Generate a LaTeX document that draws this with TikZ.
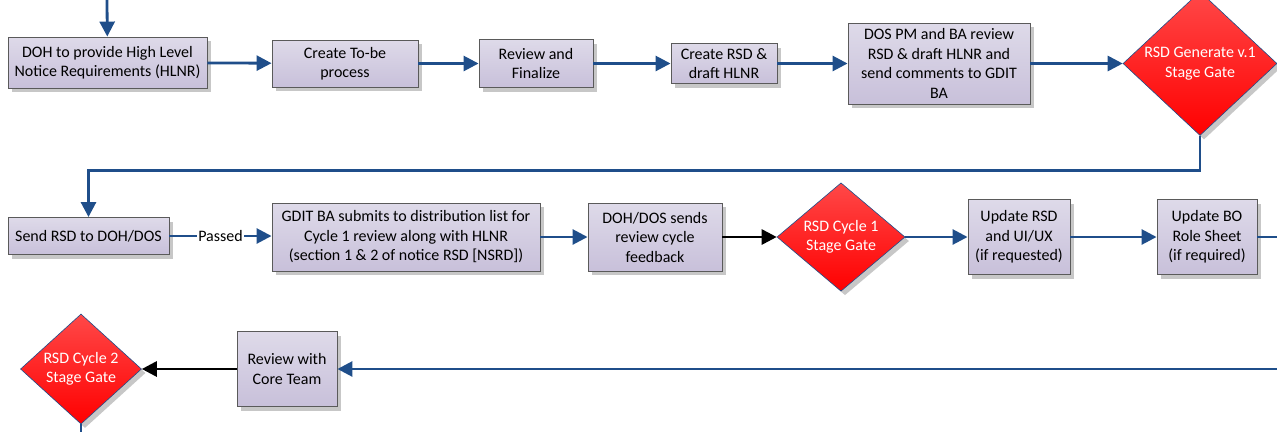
\documentclass[tikz,border=0pt]{standalone}
\usepackage{fontspec}
\setmainfont{Carlito}
\usetikzlibrary{shapes.geometric,arrows.meta,shadows}

\definecolor{flowblue}{HTML}{1F4E8A}
\definecolor{boxtop}{HTML}{DEDAE9}
\definecolor{boxbottom}{HTML}{C8C0DA}
\definecolor{boxline}{HTML}{5A5A5A}
\definecolor{gatetop}{HTML}{FF4848}
\definecolor{gatebottom}{HTML}{FF0000}

\tikzset{
  stepbox/.style={draw=boxline, line width=0.9pt, top color=boxtop, bottom color=boxbottom,
    drop shadow={shadow xshift=4pt, shadow yshift=-4pt, fill=black!40, opacity=0.55},
    align=center, inner sep=0pt, font=\fontsize{16}{19.5}\selectfont},
  gate/.style={diamond, draw=flowblue, line width=0.6pt, top color=gatetop, bottom color=gatebottom,
    drop shadow={shadow xshift=4pt, shadow yshift=-4pt, fill=black!40, opacity=0.55},
    text=white, align=center, inner sep=0pt, font=\fontsize{16}{19.5}\selectfont},
  flow/.style={draw=flowblue, line width=2.8pt, -{Triangle[length=15pt,width=15pt]}},
  flowline/.style={draw=flowblue, line width=2.8pt},
  flowblack/.style={flow, draw=black},
}

\begin{document}
\begin{tikzpicture}[x=1pt,y=1pt]
    \useasboundingbox (0,0) rectangle (1277,-432);

    % free ends of the connectors at the page edges
    \coordinate (start) at (107,0);
    \coordinate (exitTwo) at (1277,-237);
    \coordinate (entryThree) at (1277,-369);
    \coordinate (exitThree) at (81,-432);

    % first row: requirements and RSD draft
    \node[stepbox, minimum width=199pt, minimum height=51pt] (hlnr) at (107.5,-62.5)
        {DOH to provide High Level\\Notice Requirements (HLNR)};
    \node[stepbox, minimum width=146pt, minimum height=47pt] (tobe) at (345,-63.5)
        {Create To-be\\process};
    \node[stepbox, minimum width=114pt, minimum height=48pt] (finalize) at (536,-63.5)
        {Review and\\Finalize};
    \node[stepbox, minimum width=106pt, minimum height=40pt] (draft) at (724,-63.5)
        {Create RSD \&\\draft HLNR};
    \node[stepbox, minimum width=182pt, minimum height=81pt] (dosreview) at (939,-63.5)
        {DOS PM and BA review\\RSD \& draft HLNR and\\send comments to GDIT\\BA};
    \node[gate, minimum width=154pt, minimum height=118pt] (gengate) at (1200,-63.5)
        {RSD Generate v.1\\Stage Gate};

    % second row: cycle 1 review
    \node[stepbox, minimum width=161pt, minimum height=37pt] (send) at (88.5,-236)
        {Send RSD to DOH/DOS};
    \node[stepbox, minimum width=268pt, minimum height=68pt] (submit) at (406,-237)
        {GDIT BA submits to distribution list for\\Cycle 1 review along with HLNR\\(section 1 \& 2 of notice RSD [NSRD])};
    \node[stepbox, minimum width=134pt, minimum height=68pt] (feedback) at (655,-237)
        {DOH/DOS sends\\review cycle\\feedback};
    \node[gate, minimum width=128pt, minimum height=108pt] (cycleone) at (841,-237)
        {RSD Cycle 1\\Stage Gate};
    \node[stepbox, minimum width=102pt, minimum height=75pt] (uiux) at (1019,-237)
        {Update RSD\\and UI/UX\\(if requested)};
    \node[stepbox, minimum width=100pt, minimum height=75pt] (rolesheet) at (1207,-237)
        {Update BO\\Role Sheet\\(if required)};

    % third row: core team review
    \node[stepbox, minimum width=100pt, minimum height=75pt] (coreteam) at (287,-369)
        {Review with\\Core Team};
    \node[gate, minimum width=121pt, minimum height=110pt] (cycletwo) at (81,-369)
        {RSD Cycle 2\\Stage Gate};

    % connectors, first row
    \draw[flow] (start) -- (hlnr);
    \draw[flow] (hlnr) -- (tobe);
    \draw[flow] (tobe) -- (finalize);
    \draw[flow] (finalize) -- (draft);
    \draw[flow] (draft) -- (dosreview);
    \draw[flow] (dosreview) -- (gengate);
    \draw[flow] (gengate.south) -- ++(0,-35) -| (send.north);

    % connectors, second row
    \draw[flow] (send) -- node[fill=white, inner sep=1pt, font=\fontsize{16}{19.5}\selectfont] {Passed} (send -| submit.west);
    \draw[flow] (submit) -- (feedback);
    \draw[flowblack] (feedback) -- (cycleone);
    \draw[flow] (cycleone) -- (uiux);
    \draw[flow] (uiux) -- (rolesheet);
    \draw[flowline] (rolesheet) -- (exitTwo);

    % connectors, third row
    \draw[flow] (entryThree) -- (coreteam);
    \draw[flowblack] (coreteam) -- (cycletwo);
    \draw[flowline] (cycletwo) -- (exitThree);
\end{tikzpicture}
\end{document}
